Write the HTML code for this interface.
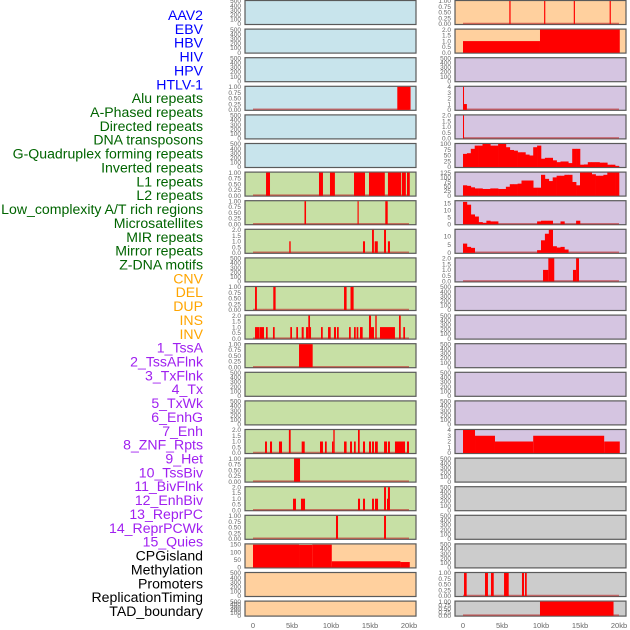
<!DOCTYPE html>
<html><head><meta charset="utf-8"><style>
body{margin:0;background:#fff;width:630px;height:630px;overflow:hidden}
svg{display:block}
.lab{font-family:"Liberation Sans",sans-serif;font-size:14.1px}
.tk{font-family:"Liberation Sans",sans-serif;font-size:6.5px;fill:#666}
.xt{font-family:"Liberation Sans",sans-serif;font-size:7.5px;fill:#666}
</style></head><body>
<svg id="chart" width="630" height="630" viewBox="0 0 630 630"></svg>
<script>
const trackLabels=["AAV2","EBV","HBV","HIV","HPV","HTLV-1","Alu repeats","A-Phased repeats","Directed repeats","DNA transposons","G-Quadruplex forming repeats","Inverted repeats","L1 repeats","L2 repeats","Low_complexity A/T rich regions","Microsatellites","MIR repeats","Mirror repeats","Z-DNA motifs","CNV","DEL","DUP","INS","INV","1_TssA","2_TssAFlnk","3_TxFlnk","4_Tx","5_TxWk","6_EnhG","7_Enh","8_ZNF_Rpts","9_Het","10_TssBiv","11_BivFlnk","12_EnhBiv","13_ReprPC","14_ReprPCWk","15_Quies","CPGisland","Methylation","Promoters","ReplicationTiming","TAD_boundary"];
const labelGroupSizes=[6,13,5,15,5];
const labelGroupColors=["#0000ff","#006400","#ffa500","#a020f0","#000000"];
const xTickLabels=["0","5kb","10kb","15kb","20kb"];
const xTickValues=[0,5,10,15,20];
const leftYMax=[500,500,500,1,500,500,1,1,2,500,1,2,1,500,500,2,1,2,1,150,500,500];
const leftBg=["#c8e4ec","#c8e4ec","#c8e4ec","#c8e4ec","#c8e4ec","#c8e4ec","#c7e0a5","#c7e0a5","#c7e0a5","#c7e0a5","#c7e0a5","#c7e0a5","#c7e0a5","#c7e0a5","#c7e0a5","#c7e0a5","#c7e0a5","#c7e0a5","#c7e0a5","#ffd09e","#ffd09e","#ffd09e"];
const leftSegs=[[],[],[],
[[18.5,20.2,1]],[],[],
[[1.67,2.18,1],[8.46,8.97,1],[9.87,10.5,1],[12.95,14.36,1],[14.87,16.9,1],[17.3,19.0,1],[19.1,19.6,1],[19.74,20.1,1]],
[[6.6,6.8,1],[13.4,13.55,1],[16.96,17.27,1]],
[[4.65,4.83,1],[14.1,14.36,1],[15.26,15.5,2],[15.6,16,1],[16.8,17.05,2],[17.3,17.56,1]],
[],
[[0.26,0.5,1],[2.6,2.9,1],[11.67,12.0,1],[12.5,12.9,1]],
[[0.26,0.77,1],[0.81,1.41,1],[1.67,1.88,1],[2.56,2.78,1],[4.78,5.0,1],[5.55,5.77,1],[6.24,6.5,1],[6.8,7.09,1],[7.09,7.31,2],[7.31,7.44,1],[8.72,8.94,1],[9.62,9.96,1],[10.38,10.64,1],[10.77,10.99,1],[12.31,12.53,1],[12.95,13.17,1],[13.29,13.5,1],[13.72,14.06,1],[14.87,15.13,2],[15.13,15.51,1],[15.68,15.86,2],[16.28,18.2,1],[18.72,18.94,2],[19.27,19.49,1]],
[[5.9,7.65,1]],
[],[],
[[1.54,1.79,1],[2.18,2.44,1],[3.33,3.72,1],[4.6,4.83,2],[6.24,6.63,1],[8.59,8.97,1],[9.23,9.45,1],[10.13,10.3,1],[10.3,10.47,2],[11.67,12.0,1],[12.44,12.69,1],[12.95,13.17,1],[13.46,13.68,2],[14.1,14.36,1],[14.87,15.13,1],[15.26,15.51,1],[15.64,16,1],[16.8,17.18,1],[17.3,17.56,1],[18.2,19.49,1],[19.74,20,1]],
[[5.26,6.03,1]],
[[5.13,5.51,1],[6.15,6.67,1],[13.46,13.72,1],[14.1,14.36,1],[15.26,15.51,1],[15.64,16.03,1],[16.8,17.05,2],[17.18,17.3,1],[17.3,17.56,2]],
[[10.64,10.9,1],[16.8,17.05,1]],
[[0,5.9,148],[5.9,7.6,146],[7.6,10.1,148],[10.1,18.9,40],[18.9,20.1,35]],
[],[]];
const rightYMax=[1,2,500,4,2,100,125,16.5,14,2,500,500,500,500,500,4,500,500,500,500,1,1];
const rightBg=["#ffd09e","#ffd09e","#d5c5e1","#d5c5e1","#d5c5e1","#d5c5e1","#d5c5e1","#d5c5e1","#d5c5e1","#d5c5e1","#d5c5e1","#d5c5e1","#d5c5e1","#d5c5e1","#d5c5e1","#d5c5e1","#cccccc","#cccccc","#cccccc","#cccccc","#cccccc","#cccccc"];
const rightSegs=[
[[5.94,6.1,1],[10.4,10.55,1],[14.2,14.35,1],[18.8,18.95,1]],
[[0,9.87,1],[9.87,20.1,2]],
[],
[[0,0.13,4],[0.13,0.5,1]],
[[0,0.13,2]],
[],[],[],[],
[[10.26,10.94,1],[10.94,11.7,2],[14.1,14.5,1],[14.5,14.87,2]],
[],[],[],[],[],
[[0,1.54,4],[1.54,4.1,3],[4.1,9.0,2],[9.0,18.1,3],[18.1,20.1,2]],
[],[],[],[],
[[0.13,0.47,1],[2.82,3.2,1],[3.59,3.94,1],[5.26,5.86,1],[7.56,7.82,1],[7.95,8.17,1]],
[[9.87,19.3,1]]];
const gQuadBins=[57,60,79,93,93,100,100,93,93,100,100,86,74,71,64,64,54,50,86,93,36,40,40,29,21,24,24,17,79,79,10,11,21,21,21,19,19,10,10,4];
const l1Bins=[56,53,45,39,39,36,36,39,39,36,36,48,62,62,65,82,82,82,43,43,113,91,79,99,108,108,113,113,74,56,125,125,125,116,108,108,113,125,125,125];
const lowCompBins=[16,14,7,5.5,1.5,1,2.5,2,2,0,0,0,0,0,0,0,0,0,0,2,2.5,2.5,2.5,0,0,2,0,0,0,2.5,0,0,0,0,0,0,0,0,0,0];
const microBins=[5.6,3.6,3,0,0,0,0,0,0,0,0,0,0,0,0,0,0,0,0,1.6,7.6,11.6,14,4,3.2,3.6,2,0,0,0,0,0,0,0,0,0,0,0,0,0];
const binnedRows={5:gQuadBins,6:l1Bins,7:lowCompBins,8:microBins};

const NS="http://www.w3.org/2000/svg";
const svg=document.getElementById('chart');
function mk(t,a){const e=document.createElementNS(NS,t);for(const k in a)e.setAttribute(k,a[k]);return e;}
const rowTop=r=>r*28.6;
const rowH=r=>r===21?16:25;
const cols=[{px:245,pw:171,x0:253,tickX:241,yMax:leftYMax,bg:leftBg,segs:leftSegs,name:'left'},
            {px:455,pw:171,x0:463,tickX:451,yMax:rightYMax,bg:rightBg,segs:rightSegs,name:'right'}];
const kbScale=7.8;
function tickVals(m){
  if(m===500)return [0,100,200,300,400,500];
  if(m===1)return [0,0.25,0.5,0.75,1];
  if(m===2)return [0,0.5,1,1.5,2];
  if(m===4)return [0,1,2,3,4];
  if(m===100)return [0,25,50,75,100];
  if(m===125)return [0,25,50,75,100,125];
  if(m===150)return [0,50,100,150];
  if(m===16.5)return [0,5,10,15];
  if(m===14)return [0,5,10];
  return [0,m];
}
function fmt(v,m){if(m===1)return v.toFixed(2);if(m===2)return v.toFixed(1);return String(v);}
cols.forEach((c,ci)=>{
  const xs=kb=>c.x0+kb*kbScale;
  for(let r=0;r<22;r++){
    const top=rowTop(r),h=rowH(r),bot=top+h;
    const m=c.yMax[r];
    const ys=v=>bot-1-(v/m)*(h-2);
    const g=mk('g',{});
    
    
    const bg=mk('rect',{x:c.px,y:top+0.5,width:c.pw,height:h-1,fill:c.bg[r],stroke:'#5a5a5a','stroke-width':1.2});
    
    
    g.appendChild(bg);
    const segs=c.segs[r];
    const bins=(ci===1)?binnedRows[r]:null;
    if(segs.length||bins){
      const base=mk('line',{x1:xs(0),x2:xs(20),y1:bot-1.5,y2:bot-1.5,stroke:'rgba(190,40,40,0.6)','stroke-width':1.5});
      
      
      g.appendChild(base);
    }
    segs.forEach(s=>{
      const b=mk('rect',{x:xs(s[0]),y:ys(s[2]),width:Math.max(1,xs(s[1])-xs(s[0])),height:bot-1-ys(s[2]),fill:'#ff0000'});
      
      
      g.appendChild(b);
    });
    if(bins){
      bins.forEach((v,i)=>{
        if(v<=0)return;
        const b=mk('rect',{x:xs(i*0.5),y:ys(v),width:0.5*kbScale+0.3,height:bot-1-ys(v),fill:'#ff0000'});
        
        
        g.appendChild(b);
      });
    }
    tickVals(m).forEach(v=>{
      const t=mk('text',{x:c.tickX,y:ys(v)+2.2,'text-anchor':'end',class:'tk'});
      t.textContent=fmt(v,m);
      
      
      g.appendChild(t);
    });
    svg.appendChild(g);
  }
  xTickValues.forEach((v,i)=>{
    const t=mk('text',{x:xs(v),y:628,'text-anchor':'middle',class:'xt'});
    t.textContent=xTickLabels[i];
    
    
    svg.appendChild(t);
  });
});
let li=0;
labelGroupSizes.forEach((n,gi)=>{
  for(let k=0;k<n;k++){
    const t=mk('text',{x:203,y:20+li*13.86,'text-anchor':'end',class:'lab',fill:labelGroupColors[gi]});
    t.textContent=trackLabels[li];
    
    
    svg.appendChild(t);
    li++;
  }
});
</script>
</body></html>
